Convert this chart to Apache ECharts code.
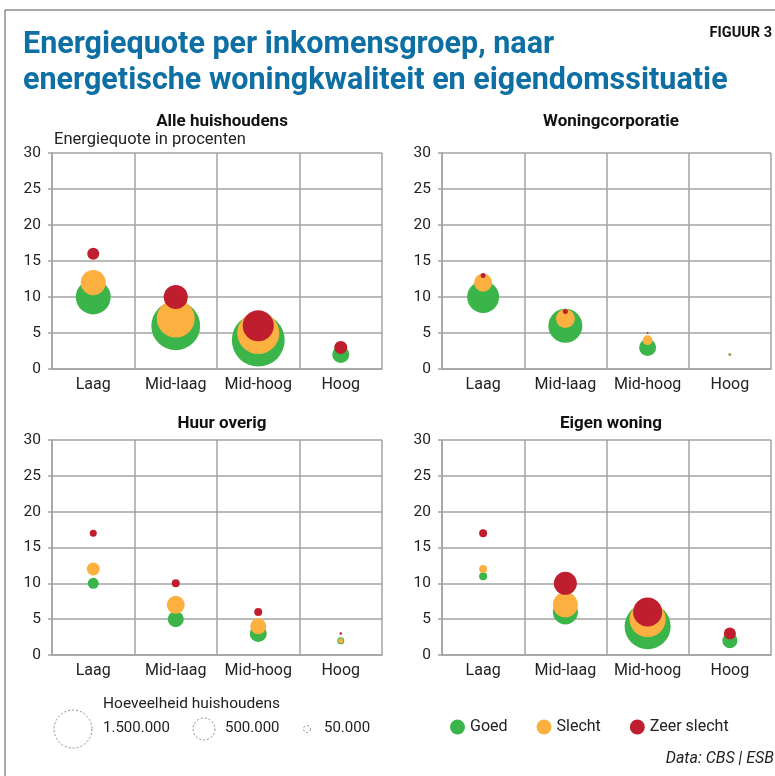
<!DOCTYPE html>
<html>
<head>
<meta charset="utf-8">
<script src="https://cdn.jsdelivr.net/npm/echarts@6/dist/echarts.min.js"></script>
<style>
  html, body { margin: 0; padding: 0; background: #fff; }
  #chart { width: 775px; height: 776px; }
</style>
</head>
<body>
<div id="chart"></div>
<script>
// 类别与面板
const categories = ['Laag', 'Mid-laag', 'Mid-hoog', 'Hoog'];
const panelTitles = ['Alle huishoudens', 'Woningcorporatie', 'Huur overig', 'Eigen woning'];
const yTicks = [0, 5, 10, 15, 20, 25, 30];

// 能源占比（%）— 每个面板按 Goed / Slecht / Zeer slecht
const alleGoed = [10, 6, 4, 2];
const alleSlecht = [12, 7, 5, 3];
const alleZeer = [16, 10, 6, 3];
const corpGoed = [10, 6, 3, 2];
const corpSlecht = [12, 7, 4, 2];
const corpZeer = [13, 8, 5, 2];
const huurGoed = [10, 5, 3, 2];
const huurSlecht = [12, 7, 4, 2];
const huurZeer = [17, 10, 6, 3];
const eigenGoed = [11, 6, 4, 2];
const eigenSlecht = [12, 7, 5, 3];
const eigenZeer = [17, 10, 6, 3];

// 家庭数量（千户），决定气泡面积
const alleGoedN = [1260, 2480, 2900, 300];
const alleSlechtN = [655, 1500, 1830, 100];
const alleZeerN = [150, 600, 1000, 176];
const corpGoedN = [1060, 1200, 300, 9];
const corpSlechtN = [340, 375, 100, 4];
const corpZeerN = [26, 26, 4, 1];
const huurGoedN = [126, 267, 300, 51];
const huurSlechtN = [175, 337, 267, 26];
const huurZeerN = [51, 66, 66, 7];
const eigenGoedN = [66, 650, 2200, 234];
const eigenSlechtN = [66, 650, 1350, 100];
const eigenZeerN = [66, 548, 875, 150];

// 图例中的家庭数量（千户）
const sizeLegend = [1500, 500, 50];
const sizeLegendLabels = ['1.500.000', '500.000', '50.000'];

const seriesNames = ['Goed', 'Slecht', 'Zeer slecht'];
const colors = ['#3bb54a', '#fbb040', '#be1e2d'];

const FONT = 'Roboto, "Noto Sans", sans-serif';
const BLUE = '#0d6fa3';

// 面积比例：1.500.000 户 = 直径 38px
function sizeOf(n) { return 38 * Math.sqrt(n / 1500); }

const panelData = [
    [[alleGoed, alleGoedN], [alleSlecht, alleSlechtN], [alleZeer, alleZeerN]],
    [[corpGoed, corpGoedN], [corpSlecht, corpSlechtN], [corpZeer, corpZeerN]],
    [[huurGoed, huurGoedN], [huurSlecht, huurSlechtN], [huurZeer, huurZeerN]],
    [[eigenGoed, eigenGoedN], [eigenSlecht, eigenSlechtN], [eigenZeer, eigenZeerN]]
];

// 网格位置
const grids = [
    { left: 52, top: 153, width: 330, height: 216 },
    { left: 442, top: 153, width: 329, height: 216 },
    { left: 52, top: 440, width: 330, height: 215 },
    { left: 442, top: 440, width: 329, height: 215 }
];

const lineColor = '#a3a3a3';

const xAxes = grids.map((g, i) => ({
    type: 'category', gridIndex: i, data: categories, boundaryGap: true,
    axisLine: { lineStyle: { color: lineColor, width: 1.5 } },
    axisTick: { show: false },
    splitLine: { show: true, lineStyle: { color: lineColor, width: 1.5 } },
    axisLabel: { color: '#222', fontSize: 16, fontFamily: FONT, margin: 8, interval: 0 }
}));

const yAxes = grids.map((g, i) => ({
    type: 'value', gridIndex: i, min: yTicks[0], max: yTicks[yTicks.length - 1], interval: 5,
    axisLine: { show: true, lineStyle: { color: lineColor, width: 1.5 } },
    axisTick: { show: true, length: 4, lineStyle: { color: lineColor, width: 1.5 } },
    splitLine: { show: true, lineStyle: { color: lineColor, width: 1.5 } },
    axisLabel: { color: '#222', fontSize: 15.5, fontFamily: FONT, margin: 11 }
}));

const series = [];
panelData.forEach((groups, i) => {
    groups.forEach((pair, k) => {
        series.push({
            name: seriesNames[k],
            type: 'scatter',
            xAxisIndex: i, yAxisIndex: i,
            z: 2 + k,
            silent: true,
            data: categories.map((c, j) => [j, pair[0][j], pair[1][j]]),
            symbolSize: d => sizeOf(d[2]),
            itemStyle: { color: colors[k], opacity: 1 }
        });
    });
});

const panelTitlePos = [[217, 108], [606, 108], [217, 410], [606, 410]];
const titles = [{
    text: 'Energiequote per inkomensgroep, naar\nenergetische woningkwaliteit en eigendomssituatie',
    left: 18, top: 22,
    textStyle: { color: BLUE, fontSize: 30.5, fontWeight: 'bold', fontFamily: FONT, lineHeight: 36 }
}].concat(panelTitles.map((t, i) => ({
    text: t, left: panelTitlePos[i][0], top: panelTitlePos[i][1], textAlign: 'center',
    textStyle: { color: '#111', fontSize: 17, fontWeight: 'bold', fontFamily: FONT }
})));

// 气泡大小图例
const sizeLegendX = [73, 204, 307];
const sizeLegendTextX = [103, 225, 324];
const graphics = [
    { type: 'line', shape: { x1: 5, y1: 10, x2: 775, y2: 10 }, style: { stroke: '#555', lineWidth: 1 } },
    { type: 'line', shape: { x1: 5, y1: 10, x2: 5, y2: 776 }, style: { stroke: '#555', lineWidth: 1 } },
    { type: 'text', right: 3, top: 26, style: { text: 'FIGUUR 3', fill: '#111', font: 'bold 14.5px ' + FONT } },
    { type: 'text', left: 54, top: 131, style: { text: 'Energiequote in procenten', fill: '#222', font: '16.5px ' + FONT } },
    { type: 'text', left: 103, top: 696, style: { text: 'Hoeveelheid huishoudens', fill: '#222', font: '15.5px ' + FONT } },
    { type: 'text', right: 1, top: 751, style: { text: 'Data: CBS | ESB', fill: '#222', font: 'italic 16px ' + FONT } }
];
sizeLegend.forEach((n, i) => {
    graphics.push({
        type: 'circle', shape: { cx: sizeLegendX[i], cy: 729, r: sizeOf(n) / 2 },
        style: { fill: 'none', stroke: '#888', lineWidth: 1, lineDash: [2, 2] }
    });
    graphics.push({
        type: 'text', left: sizeLegendTextX[i], top: 721,
        style: { text: sizeLegendLabels[i], fill: '#222', font: '15px ' + FONT }
    });
});

const chart = echarts.init(document.getElementById('chart'));
chart.setOption({
    animation: false,
    title: titles,
    grid: grids,
    xAxis: xAxes,
    yAxis: yAxes,
    legend: {
        data: seriesNames, left: 445, top: 714, icon: 'circle',
        itemWidth: 15, itemHeight: 15, itemGap: 29, selectedMode: false,
        textStyle: { color: '#222', fontSize: 16, fontFamily: FONT }
    },
    graphic: graphics,
    series: series
});
</script>
</body>
</html>
